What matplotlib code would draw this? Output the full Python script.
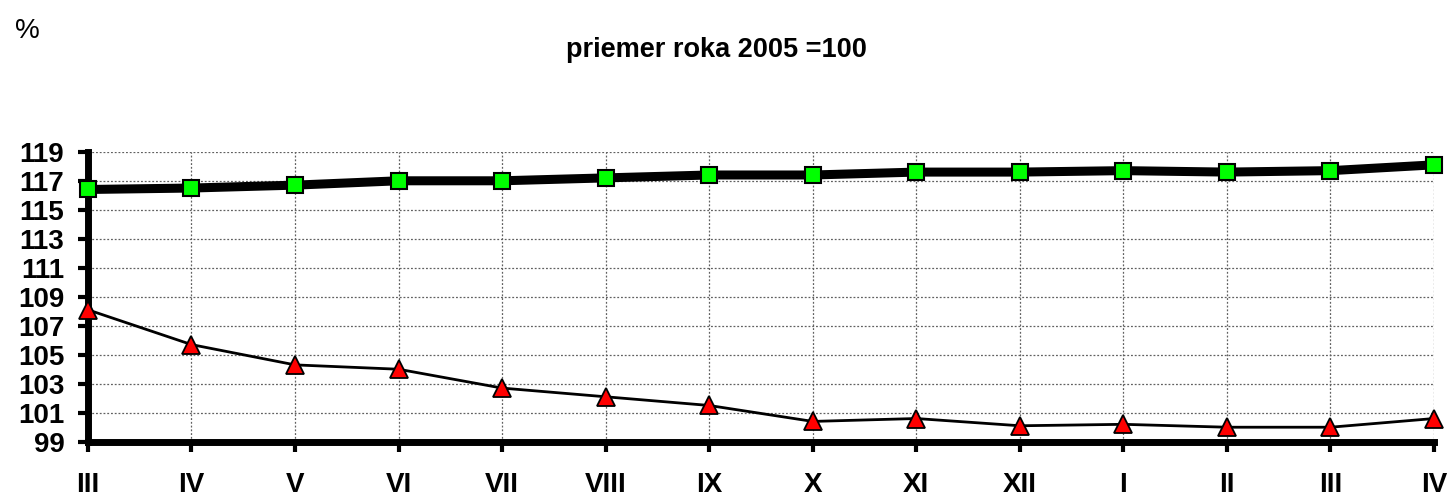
import matplotlib
matplotlib.use("Agg")
import matplotlib.pyplot as plt
import numpy as np

# categories (months) and index values, average of 2005 = 100
months = ["III", "IV", "V", "VI", "VII", "VIII", "IX", "X", "XI", "XII",
          "I", "II", "III", "IV"]
upper_series = [116.4, 116.5, 116.7, 117.0, 117.0, 117.2, 117.4, 117.4,
                117.6, 117.6, 117.7, 117.6, 117.7, 118.1]
lower_series = [108.1, 105.7, 104.3, 104.0, 102.7, 102.1, 101.5, 100.4,
                100.6, 100.1, 100.2, 100.0, 100.0, 100.6]
y_ticks = list(range(99, 120, 2))

plt.rcParams["font.family"] = ["Liberation Sans", "DejaVu Sans"]

fig = plt.figure(figsize=(14.51, 4.99), dpi=100)
ax = fig.add_axes([0.0606, 0.1148, 0.9277, 0.581])

x = np.arange(len(months))

# --- lines ---
ax.plot(x, upper_series, color="black", linewidth=6.5, marker="s",
        markersize=11, markerfacecolor="#00ff00", markeredgecolor="black",
        markeredgewidth=1.5, clip_on=False, zorder=4)
ax.plot(x, lower_series, color="black", linewidth=2, marker="^",
        markersize=13, markerfacecolor="#ff0000", markeredgecolor="black",
        markeredgewidth=1.3, clip_on=False, zorder=4)

# --- axes formatting ---
ax.set_xlim(0, len(months) - 1)
ax.set_ylim(99, 119)
ax.set_xticks(x)
ax.set_xticklabels(months, fontsize=20, fontweight="bold")
ax.set_yticks(y_ticks)
ax.set_yticklabels([str(v) for v in y_ticks], fontsize=20, fontweight="bold")

for side in ("top", "right"):
    ax.spines[side].set_visible(False)
for side in ("left", "bottom"):
    ax.spines[side].set_linewidth(5)
    ax.spines[side].set_capstyle("projecting")

ax.tick_params(axis="y", direction="out", length=7, width=3, pad=10)
ax.tick_params(axis="x", direction="out", length=7, width=3, pad=15)

ax.grid(True, linestyle=(0, (1.5, 1.5)), color="#606060", linewidth=0.9)
ax.set_axisbelow(True)

# --- texts ---
fig.text(0.010, 0.937, "%", fontsize=20, ha="left", va="center")
fig.text(0.494, 0.90, "priemer roka 2005 =100", fontsize=19.5,
         fontweight="bold", ha="center", va="center")

fig.savefig("out.png", dpi=100)
plt.close(fig)
